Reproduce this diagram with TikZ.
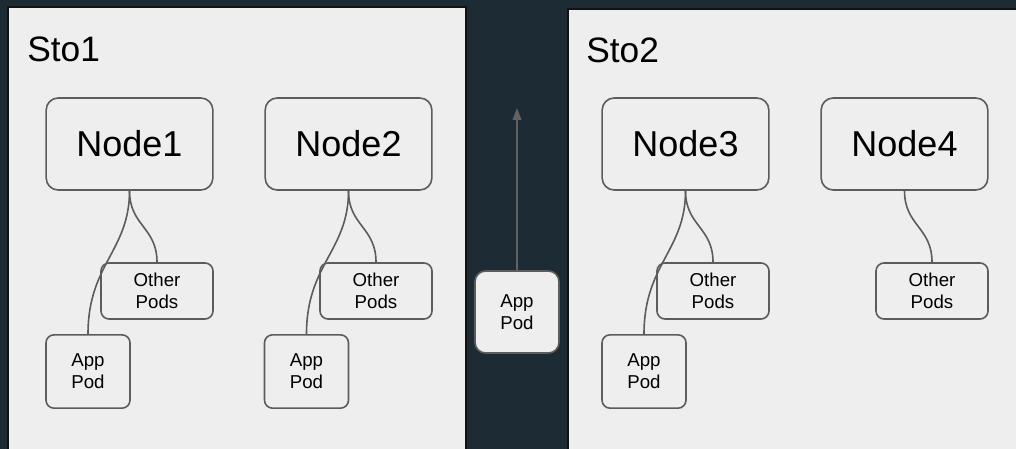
\documentclass[tikz,border=0pt]{standalone}
\usepackage{fontspec}
\setmainfont{Liberation Sans}
\usepackage{xcolor}
\usepackage{tikz}
\usetikzlibrary{arrows.meta, positioning}
\definecolor{mybg}{RGB}{29,43,52}
\definecolor{mypanel}{RGB}{238,238,238}
\definecolor{myedge}{RGB}{92,92,92}
\definecolor{myline}{RGB}{98,98,98}
\definecolor{myframe}{RGB}{18,18,18}
\tikzset{
  panel/.style={fill=mypanel, draw=myframe, line width=0.9pt},
  stolabel/.style={anchor=base west, inner sep=0pt,
    font=\fontsize{26.5}{32}\selectfont},
  hostbox/.style={rectangle, draw=myedge, fill=mypanel,
    minimum width=125pt, minimum height=69pt, inner sep=0pt,
    font=\fontsize{27}{32}\selectfont, rounded corners=9pt, line width=1.2pt},
  otherbox/.style={rectangle, draw=myedge, fill=mypanel, align=center,
    minimum width=84pt, minimum height=42pt, inner sep=0pt,
    font=\fontsize{14}{16.5}\selectfont, rounded corners=6pt, line width=1.2pt},
  podbox/.style={otherbox, minimum width=63pt, minimum height=55pt},
  movebox/.style={podbox, minimum height=61.5pt, rounded corners=8pt},
  link/.style={line width=1.2pt, color=myedge},
  arrow/.style={-{Triangle[length=9pt, width=6.5pt]}, line width=1.2pt, color=myline}
}

\begin{document}
\begin{tikzpicture}[x=0.75pt, y=-0.75pt]
  % Background
  \fill[mybg] (0,0) rectangle (1016,449);
  \useasboundingbox (0,0) rectangle (1016,449);
  \clip (0,0) rectangle (1016,449);

  % Storage zones
  \draw[panel] (8,7) rectangle (466,470);
  \draw[panel] (568,9) rectangle (1030,470);
  \node[stolabel] (sto1) at (27,62) {Sto1};
  \node[stolabel] (sto2) at (586,63) {Sto2};

  % Hosts
  \node[hostbox] (node1) at (129.5,144) {Node1};
  \node[hostbox] (node2) at (348.5,144) {Node2};
  \node[hostbox] (node3) at (685.5,144) {Node3};
  \node[hostbox] (node4) at (904.5,144) {Node4};

  % Pods on each host
  \node[otherbox] (other1) at (157,291) {Other\\Pods};
  \node[otherbox] (other2) at (376,291) {Other\\Pods};
  \node[otherbox] (other3) at (713,291) {Other\\Pods};
  \node[otherbox] (other4) at (932,291) {Other\\Pods};
  \node[podbox] (app1) at (88,371.5) {App\\Pod};
  \node[podbox] (app2) at (306.5,371.5) {App\\Pod};
  \node[podbox] (app3) at (644,371.5) {App\\Pod};

  % Links from host to pods
  \draw[link] (node1.south) .. controls +(0,60) and +(0,-70) .. (app1.north);
  \draw[link] (node1.south) .. controls +(0,35) and +(0,-35) .. (other1.north);
  \draw[link] (node2.south) .. controls +(0,60) and +(0,-70) .. (app2.north);
  \draw[link] (node2.south) .. controls +(0,35) and +(0,-35) .. (other2.north);
  \draw[link] (node3.south) .. controls +(0,60) and +(0,-70) .. (app3.north);
  \draw[link] (node3.south) .. controls +(0,35) and +(0,-35) .. (other3.north);
  \draw[link] (node4.south) .. controls +(0,35) and +(0,-35) .. (other4.north);

  % Pod in transit
  \node[movebox] (moving) at (517,312) {App\\Pod};
  \coordinate (up) at (517,108);
  \draw[arrow] (moving.north) -- (up);
\end{tikzpicture}
\end{document}
